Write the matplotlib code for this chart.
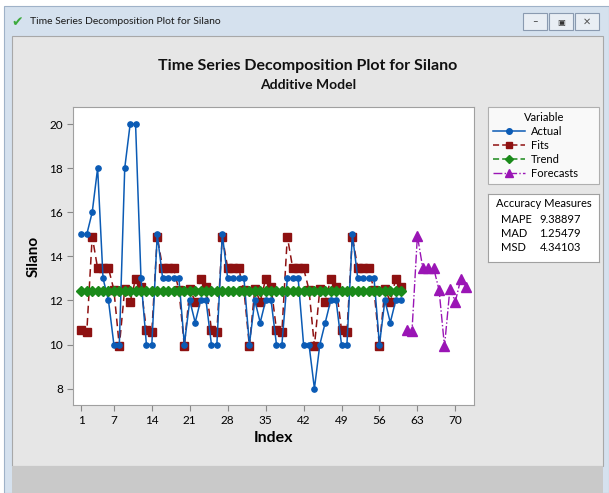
import numpy as np
import matplotlib.pyplot as plt
from matplotlib.patches import Rectangle
from matplotlib.lines import Line2D

plt.rcParams['font.family'] = ['Lato', 'DejaVu Sans']

# DATA
index = list(range(1, 61))
actual = [15, 15, 16, 18, 13, 12, 10, 10, 18, 20, 20, 13,
          10, 10, 15, 13, 13, 13, 13, 10, 12, 11, 12, 12,
          10, 10, 15, 13, 13, 13, 13, 10, 12, 11, 12, 12,
          10, 10, 13, 13, 13, 10, 10, 8, 10, 11, 12, 12,
          10, 10, 15, 13, 13, 13, 13, 10, 12, 11, 12, 12]
fits = [10.66, 10.57, 14.90, 13.46, 13.46, 13.46, 12.48, 9.92, 12.53, 11.95, 12.97, 12.63,
        10.66, 10.57, 14.90, 13.46, 13.46, 13.46, 12.48, 9.92, 12.53, 11.95, 12.97, 12.63,
        10.66, 10.57, 14.90, 13.46, 13.46, 13.46, 12.48, 9.92, 12.53, 11.95, 12.97, 12.63,
        10.66, 10.57, 14.90, 13.46, 13.46, 13.46, 12.48, 9.92, 12.53, 11.95, 12.97, 12.63,
        10.66, 10.57, 14.90, 13.46, 13.46, 13.46, 12.48, 9.92, 12.53, 11.95, 12.97, 12.63]
trend = [12.42, 12.42, 12.42, 12.42, 12.42, 12.42, 12.42, 12.42, 12.42, 12.42, 12.42, 12.42,
         12.42, 12.42, 12.42, 12.42, 12.42, 12.42, 12.42, 12.42, 12.42, 12.42, 12.42, 12.42,
         12.42, 12.42, 12.42, 12.42, 12.42, 12.42, 12.42, 12.42, 12.42, 12.42, 12.42, 12.42,
         12.42, 12.42, 12.42, 12.42, 12.42, 12.42, 12.42, 12.42, 12.42, 12.42, 12.42, 12.42,
         12.42, 12.42, 12.42, 12.42, 12.42, 12.42, 12.42, 12.42, 12.42, 12.42, 12.42, 12.42]
fc_index = list(range(61, 73))
forecasts = [10.67, 10.60, 14.93, 13.46, 13.46, 13.46, 12.48, 9.92, 12.53, 11.95, 12.97, 12.63]

xticks = [1, 7, 14, 21, 28, 35, 42, 49, 56, 63, 70]
yticks = [8, 10, 12, 14, 16, 18, 20]
measures = ["MAPE", "MAD", "MSD"]
measure_vals = ["9.38897", "1.25479", "4.34103"]

W, H = 609, 493
fig = plt.figure(figsize=(W / 100, H / 100), dpi=100)
fig.patch.set_facecolor('white')

def px(x, y, w, h):
    # pixel box (top-left origin) -> figure fraction
    return [x / W, 1 - (y + h) / H, w / W, h / H]

def rect(x, y, w, h, fc, ec='none', lw=0.8):
    r = Rectangle((x / W, 1 - (y + h) / H), w / W, h / H, transform=fig.transFigure,
                  facecolor=fc, edgecolor=ec, lw=lw, zorder=-5)
    fig.patches.append(r)

# Window frame
rect(4, 6, 605, 487, '#D5E1EE', ec='#9FB2C8')
rect(12, 36, 591, 430, '#E6E6E6', ec='#A8A8A8')
rect(12, 466, 591, 27, '#C9C9C9')
fig.text(30 / W, 1 - 22 / H, "Time Series Decomposition Plot for Silano", fontsize=7.5,
         va='center', ha='left', color='#1A1A1A')
fig.text(17 / W, 1 - 22 / H, "\u2714", fontsize=10, va='center', ha='center',
         color='#3DAA3D', family='DejaVu Sans')
for bx in [523, 549, 575]:
    rect(bx, 13, 24, 17, '#E9EEF4', ec='#8A9AB0')
fig.text(535 / W, 1 - 22 / H, "\u2013", fontsize=7, va='center', ha='center', color='#333333')
fig.text(561 / W, 1 - 22 / H, "\u25a3", fontsize=6, va='center', ha='center', color='#333333',
         family='DejaVu Sans')
fig.text(587 / W, 1 - 22 / H, "\u2715", fontsize=7, va='center', ha='center', color='#555555',
         family='DejaVu Sans')

# Titles
fig.text(308 / W, 1 - 66 / H, "Time Series Decomposition Plot for Silano", fontsize=11.5,
         fontweight='bold', ha='center', va='center', color='#111111')
fig.text(308 / W, 1 - 85 / H, "Additive Model", fontsize=10, fontweight='bold',
         ha='center', va='center', color='#111111')

# Main plot
ax = fig.add_axes(px(72.7, 107.3, 401.6, 297.7))
ax.set_facecolor('white')
ax.plot(index, actual, '-o', color='#0B5BB5', lw=1.1, ms=3.8, zorder=4)
ax.plot(index, fits, '--s', color='#8E1111', lw=1.1, ms=6, dashes=(5, 3), zorder=3)
ax.plot(index, trend, '--D', color='#1A8A1A', lw=1.1, ms=5, dashes=(5, 3), zorder=5)
ax.plot(fc_index, forecasts, '-.^', color='#9A15B5', lw=1.0, ms=6.5, zorder=3)
ax.set_xlim(-0.6, 73.5)
ax.set_ylim(7.26, 20.76)
ax.set_xticks(xticks)
ax.set_yticks(yticks)
ax.tick_params(labelsize=8.5, color='#888888', length=4, pad=3)
for s in ax.spines.values():
    s.set_color('#A0A0A0')
ax.set_xlabel("Index", fontsize=11.5, fontweight='bold', labelpad=4)
ax.set_ylabel("Silano", fontsize=11, fontweight='bold', labelpad=6)

# Legend box
handles = [Line2D([], [], color='#0B5BB5', marker='o', ms=4, lw=1.1),
           Line2D([], [], color='#8E1111', marker='s', ms=5, lw=1.1, ls='--', dashes=(4, 2)),
           Line2D([], [], color='#1A8A1A', marker='D', ms=4.5, lw=1.1, ls='--', dashes=(4, 2)),
           Line2D([], [], color='#9A15B5', marker='^', ms=5.5, lw=1.0, ls='-.')]
lab = ["Actual", "Fits", "Trend", "Forecasts"]
b = px(488.3, 107.3, 111, 82.7)
leg = fig.legend(handles, lab, title="Variable", loc='upper left',
                 bbox_to_anchor=(b[0], b[1], b[2], b[3]), mode='expand',
                 fontsize=8, title_fontsize=8, frameon=True, fancybox=False,
                 edgecolor='#A0A0A0', handlelength=2.9, handletextpad=0.5,
                 labelspacing=0.28, borderaxespad=0, borderpad=0.4)
leg.get_frame().set_linewidth(0.8)

# Accuracy measures box
bx = fig.add_axes(px(488.3, 194.3, 111, 67.4))
bx.set_xticks([])
bx.set_yticks([])
for s in bx.spines.values():
    s.set_color('#A0A0A0')
bx.set_xlim(0, 1)
bx.set_ylim(0, 1)
bx.text(0.5, 0.86, "Accuracy Measures", fontsize=8, ha='center', va='center')
for i, (m, v) in enumerate(zip(measures, measure_vals)):
    bx.text(0.11, 0.62 - i * 0.205, m, fontsize=8, ha='left', va='center')
    bx.text(0.46, 0.62 - i * 0.205, v, fontsize=8, ha='left', va='center')

fig.savefig("out.png", dpi=100)
